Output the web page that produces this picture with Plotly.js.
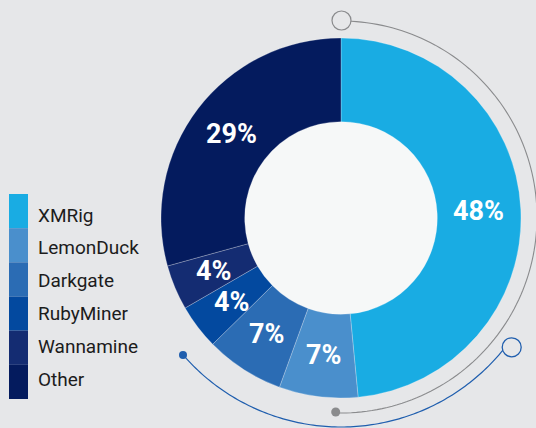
<!DOCTYPE html>
<html>
<head>
<meta charset="utf-8">
<script src="https://cdn.plot.ly/plotly-3.0.1.min.js"></script>
<style>html,body{margin:0;padding:0;background:#e6e7e9;}#chart{width:536px;height:428px;}</style>
</head>
<body>
<div id="chart"></div>
<script>
// ---- data ----
const labels = ["XMRig", "LemonDuck", "Darkgate", "RubyMiner", "Wannamine", "Other"];
const values = [48, 7, 7, 4, 4, 29];
const colors = ["#19ace3", "#4a8fcc", "#2b6cb4", "#03499f", "#142c72", "#041b5e"];

// ---- geometry helpers (pixel -> paper) ----
const W = 536, H = 428;
const px = x => x / W;
const py = y => 1 - y / H;
const CX = 341, CY = 218, R = 180;

function arcPath(cx, cy, r, a0, a1) {
  // angles in degrees, clockwise from 12 o'clock
  const n = 120;
  let d = "";
  for (let i = 0; i <= n; i++) {
    const a = (a0 + (a1 - a0) * i / n) * Math.PI / 180;
    const x = cx + r * Math.sin(a), y = cy - r * Math.cos(a);
    d += (i === 0 ? "M" : "L") + px(x).toFixed(5) + "," + py(y).toFixed(5);
  }
  return d;
}
function circ(cx, cy, r, line, fill, lw) {
  return {type: "circle", xref: "paper", yref: "paper",
    x0: px(cx - r), x1: px(cx + r), y0: py(cy + r), y1: py(cy - r),
    line: {color: line, width: lw}, fillcolor: fill, layer: "above"};
}

const shapes = [];
// hole fill
shapes.push({type: "circle", xref: "paper", yref: "paper", layer: "below",
  x0: px(CX - 97), x1: px(CX + 97), y0: py(CY + 97), y1: py(CY - 97),
  line: {width: 0}, fillcolor: "#f6f8f8"});
// gray decorative arc
shapes.push({type: "path", xref: "paper", yref: "paper", path: arcPath(CX, 217, 196, 0, 181.5),
  line: {color: "#8a8b8d", width: 1.1}, layer: "above"});
shapes.push(circ(341.5, 20.5, 9.5, "#8a8b8d", "#e6e7e9", 1.2));
shapes.push(circ(335.7, 412, 4.5, "#8a8b8d", "#8a8b8d", 0));
// blue decorative arc
shapes.push({type: "path", xref: "paper", yref: "paper", path: arcPath(CX, CY, 209, 127.5, 229.1),
  line: {color: "#1f5eae", width: 1.2}, layer: "above"});
shapes.push(circ(183, 355, 4, "#1f5eae", "#1f5eae", 0));
shapes.push(circ(511.7, 347.3, 9.5, "#1f5eae", "#e6e7e9", 1.3));

const annotations = [];

// custom legend
const LT = 194, LB = 399, LH = (LB - LT) / labels.length;
labels.forEach((lab, i) => {
  shapes.push({type: "rect", xref: "paper", yref: "paper",
    x0: px(9), x1: px(28), y0: py(LT + LH * (i + 1)), y1: py(LT + LH * i),
    line: {width: 0}, fillcolor: colors[i]});
  annotations.push({xref: "paper", yref: "paper", x: px(36), y: py(215 + 32.8 * i),
    xanchor: "left", yanchor: "middle", showarrow: false, text: lab,
    font: {family: "Roboto", size: 19, color: "#1c1c1c"}});
});

// percentage labels at the middle of each slice (angle derived from values)
const total = values.reduce((a, b) => a + b, 0);
let cum = 0;
values.forEach((v, i) => {
  const mid = (cum + v / 2) / total * 2 * Math.PI;
  cum += v;
  const rr = 138;
  annotations.push({xref: "paper", yref: "paper",
    x: px(CX + rr * Math.sin(mid)), y: py(CY - rr * Math.cos(mid)),
    xanchor: "center", yanchor: "middle", showarrow: false, text: "<b>" + v + "%</b>",
    font: {family: "Roboto", size: 27, color: "#ffffff"}});
});

const trace = {
  type: "pie",
  labels: labels,
  values: values,
  textinfo: "none",
  hole: 0.535,
  sort: false,
  direction: "clockwise",
  rotation: 0,
  marker: {colors: colors, line: {color: "rgba(255,255,255,0.35)", width: 0.7}},
  domain: {x: [px(CX - R), px(CX + R)], y: [py(CY + R), py(CY - R)]},
  showlegend: false,
  hoverinfo: "label+value"
};

const layout = {
  width: W, height: H,
  margin: {l: 0, r: 0, t: 0, b: 0},
  paper_bgcolor: "#e6e7e9",
  plot_bgcolor: "#e6e7e9",
  showlegend: false,
  shapes: shapes,
  annotations: annotations
};

Plotly.newPlot("chart", [trace], layout, {displayModeBar: false, staticPlot: true});
</script>
</body>
</html>
